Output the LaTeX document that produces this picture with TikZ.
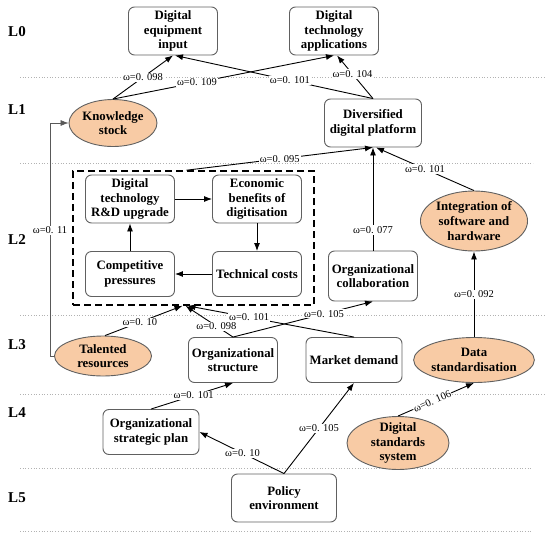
\documentclass[tikz,border=0pt]{standalone}
\usepackage{fontspec}
\setmainfont{Liberation Serif}
\usetikzlibrary{arrows.meta,shapes.geometric}

\definecolor{peach}{RGB}{248,203,165}

\tikzset{
  factor/.style={draw=gray!75!black, fill=white, rounded corners=6pt, align=center,
    inner sep=0pt, minimum width=89pt, minimum height=48pt,
    font=\fontsize{12.8}{14.7}\selectfont\bfseries},
  basic/.style={ellipse, draw=gray!75!black, fill=peach, align=center,
    inner xsep=0pt, inner ysep=-5pt,
    font=\fontsize{12.8}{14.7}\selectfont\bfseries},
  wt/.style={fill=white, inner sep=1pt, font=\fontsize{10.5}{12}\selectfont},
  level/.style={font=\fontsize{15}{18}\selectfont\bfseries},
  sep/.style={gray!60, dotted, line width=0.7pt}
}

\begin{document}
\begin{tikzpicture}[x=1pt, y=-1pt, >={Latex[length=8pt,width=6pt]}, line width=0.9pt]
    \useasboundingbox (0,0) rectangle (550,539);

    % Level separators and labels
    \foreach \y/\xe in {77/544, 163/533, 315/545, 394/545, 468/531, 531/531}
        \draw[sep] (20,\y) -- (\xe,\y);
    \foreach \n/\y in {0/32, 1/110, 2/240, 3/345, 4/413, 5/498}
        \node[level] (L\n) at (17,\y) {L\n};

    % Nodes for L0 and L1
    \node[factor] (dei) at (173,31) {Digital\\equipment\\input};
    \node[factor] (dta) at (334,31) {Digital\\technology\\applications};
    \node[basic, minimum width=88pt, minimum height=47pt] (ks) at (113,123) {Knowledge\\stock};
    \node[factor, minimum width=97pt] (ddp) at (373,123) {Diversified\\digital platform};

    % Nodes for L2 (dashed group)
    \node[draw, dashed, dash pattern=on 7pt off 4pt, line width=1.6pt,
          minimum width=241pt, minimum height=134pt] (grp) at (193.5,238) {};
    \node[factor] (rd) at (130,199) {Digital\\technology\\R\&D upgrade};
    \node[factor] (eb) at (257,199) {Economic\\benefits of\\digitisation};
    \node[factor, minimum height=45pt] (cp) at (130,274) {Competitive\\pressures};
    \node[factor, minimum height=45pt] (tc) at (257,274) {Technical costs};
    \node[factor, minimum height=50pt] (oc) at (373,276) {Organizational\\collaboration};
    \node[basic, minimum width=107pt, minimum height=60pt] (isw) at (474,221) {Integration of\\software and\\hardware};

    % Nodes for L3, L4 and L5
    \node[basic, minimum width=97pt, minimum height=40pt] (tr) at (103,356) {Talented\\resources};
    \node[factor, minimum height=45pt] (os) at (233,360) {Organizational\\structure};
    \node[factor, minimum width=96pt, minimum height=45pt] (md) at (354,360) {Market demand};
    \node[basic, minimum width=107pt, minimum height=45pt] (ds) at (474,360) {Data\\standardisation};
    \node[factor, minimum width=96pt, minimum height=45pt] (osp) at (151,432) {Organizational\\strategic plan};
    \node[basic, minimum width=102pt, minimum height=53pt] (dss) at (398,443) {Digital\\standards\\system};
    \node[factor, minimum width=105pt] (pe) at (284,498) {Policy\\environment};

    % Bends for the side connector
    \coordinate (tbend) at (50,356);
    \coordinate (kbend) at (50,123);

    % Edges with weights
    \draw[->] (ks.north) -- (dei.south) node[wt, pos=0.5] {ω=0. 098};
    \draw[->] (ks.north) -- (dta.south) node[wt, pos=0.38] {ω=0. 109};
    \draw[->] (ddp.north) -- ([xshift=2pt]dei.south) node[wt, pos=0.42] {ω=0. 101};
    \draw[->] (ddp.north) -- ([xshift=3pt]dta.south) node[wt, pos=0.57] {ω=0. 104};
    \draw[->] ([xshift=-7pt]grp.north) -- (ddp.south) node[wt, pos=0.5] {ω=0. 095};
    \draw[->] (isw.north) -- ([xshift=3pt]ddp.south) node[wt, pos=0.5] {ω=0. 101};
    \draw[->] (oc.north) -- (ddp.south) node[wt, pos=0.2] {ω=0. 077};
    \draw[->] (ds.north) -- (isw.south) node[wt, pos=0.5] {ω=0. 092};
    \draw[->, gray!70!black, line width=0.6pt] (tr.west) -- (tbend)
        -- node[wt, pos=0.54, text=black] {ω=0. 11} (kbend) -- (ks.west);
    \draw[->] ([xshift=2pt]tr.north) -- ([xshift=-11pt]grp.south) node[wt, pos=0.45] {ω=0. 10};
    \draw[->] (os.north) -- ([xshift=-8pt]grp.south) node[wt, pos=0.35] {ω=0. 098};
    \draw[->] (md.north) -- ([xshift=-6pt]grp.south) node[wt, pos=0.63] {ω=0. 101};
    \draw[->] (os.north) -- (oc.south) node[wt, pos=0.65] {ω=0. 105};
    \draw[->] (osp.north) -- (os.south) node[wt, pos=0.52] {ω=0. 101};
    \draw[->] (pe.north) -- (osp.east) node[wt, pos=0.49] {ω=0. 10};
    \draw[->] (pe.north) -- (md.south) node[wt, pos=0.5] {ω=0. 105};
    \draw[->] (dss.north) -- (ds.south) node[wt, pos=0.45, sloped, inner sep=0.5pt] {ω=0. 106};

    % Cycle inside the group
    \draw[->] (rd) -- (eb);
    \draw[->] (eb) -- (tc);
    \draw[->] (tc) -- (cp);
    \draw[->] (cp) -- (rd);
\end{tikzpicture}
\end{document}
